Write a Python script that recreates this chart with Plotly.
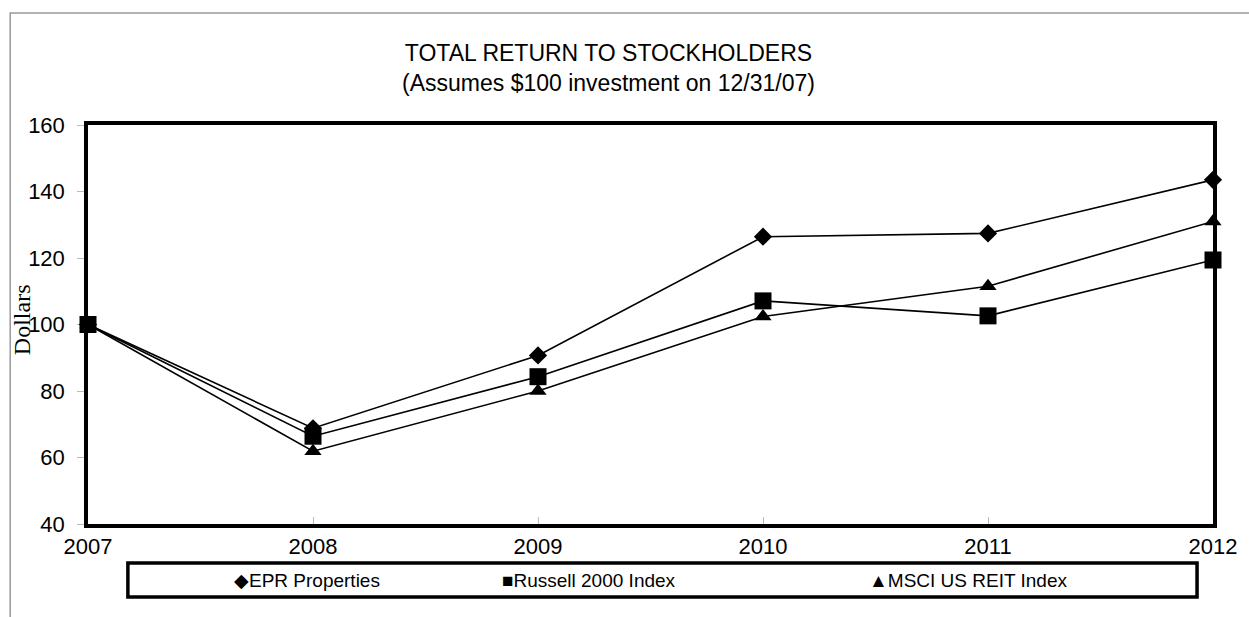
import plotly.graph_objects as go

years = [2007, 2008, 2009, 2010, 2011, 2012]
epr = [100, 68.8, 90.7, 126.4, 127.4, 143.5]
russell = [100, 66.4, 84.3, 107.1, 102.6, 119.4]
msci = [100, 61.9, 80.0, 102.4, 111.5, 131.0]
series_names = ["EPR Properties", "Russell 2000 Index", "MSCI US REIT Index"]
symbols = ["diamond", "square", "triangle-up"]
glyphs = ["\u25C6", "\u25A0", "\u25B2"]
marker_sizes = [14, 17, 15]
y_ticks = [40, 60, 80, 100, 120, 140, 160]

SANS = "Liberation Sans, Arial, sans-serif"
SERIF = "Liberation Serif, Times New Roman, serif"

fig = go.Figure()
for name, vals, sym, ms in zip(series_names, [epr, russell, msci], symbols, marker_sizes):
    fig.add_trace(go.Scatter(
        x=years, y=vals, name=name, mode="lines+markers",
        line=dict(color="black", width=1.6),
        marker=dict(symbol=sym, size=ms, color="black"),
        cliponaxis=False,
    ))

fig.update_layout(
    width=1249, height=617,
    margin=dict(l=88, r=33, t=125, b=93),
    paper_bgcolor="white", plot_bgcolor="white",
    showlegend=False,
    font=dict(family=SANS, color="black"),
)

fig.update_xaxes(
    range=[2007, 2012], tickvals=years, ticktext=[str(y) for y in years],
    showgrid=False, zeroline=False,
    showline=True, linecolor="black", linewidth=3.5, mirror=True,
    ticks="inside", ticklen=7, tickcolor="#bbbbbb", tickwidth=1,
    tickfont=dict(size=22, family=SANS, color="black"),
    layer="below traces",
)
fig.update_yaxes(
    range=[40, 160], tickvals=y_ticks,
    showgrid=False, zeroline=False,
    showline=True, linecolor="black", linewidth=3.5, mirror=True,
    ticks="outside", ticklen=7, tickcolor="#bbbbbb", tickwidth=1,
    ticklabelstandoff=8,
    tickfont=dict(size=22, family=SANS, color="black"),
    layer="below traces",
)

# Title
fig.add_annotation(
    text="TOTAL RETURN TO STOCKHOLDERS<br>(Assumes $100 investment on 12/31/07)",
    xref="paper", yref="paper", x=(610 - 88) / 1128, y=(524 - 68) / 399,
    xanchor="center", yanchor="middle", showarrow=False,
    font=dict(size=23, family=SANS, color="black"), align="center",
)

# Y axis title
fig.add_annotation(
    text="Dollars", xref="paper", yref="paper",
    x=(22 - 88) / 1128, y=(524 - 320) / 399, textangle=-90,
    xanchor="center", yanchor="middle", showarrow=False,
    font=dict(size=24, family=SERIF, color="black"),
)

# Outer scan border (top and left)
fig.add_shape(type="rect", xref="paper", yref="paper",
              x0=(10 - 88) / 1128, x1=(1260 - 88) / 1128,
              y0=(524 - 630) / 399, y1=(524 - 13) / 399,
              line=dict(color="#999999", width=1.5), layer="below")

# Legend box
fig.add_shape(type="rect", xref="paper", yref="paper",
              x0=(128 - 88) / 1128, x1=(1200 - 88) / 1128,
              y0=(524 - 597) / 399, y1=(524 - 563) / 399,
              line=dict(color="black", width=3.5))
legend_centers = [308, 590, 970]
for g, name, cx in zip(glyphs, series_names, legend_centers):
    fig.add_annotation(
        text=g + name, xref="paper", yref="paper",
        x=(cx - 88) / 1128, y=(524 - 580) / 399,
        xanchor="center", yanchor="middle", showarrow=False,
        font=dict(size=19, family=SANS, color="black"),
    )

fig.write_html("out.html",
               config={"displayModeBar": False},
               post_script="document.body.style.margin='0';document.body.style.overflow='hidden';")
